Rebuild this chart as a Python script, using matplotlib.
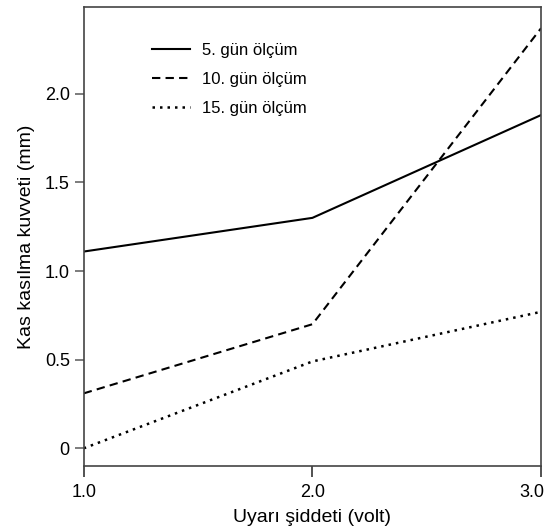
import matplotlib
matplotlib.use("Agg")
import matplotlib.pyplot as plt
from matplotlib.transforms import ScaledTranslation

plt.rcParams['font.family'] = ['Liberation Sans', 'DejaVu Sans']

# Data
voltage = [1.0, 2.0, 3.0]
day5 = [1.11, 1.30, 1.88]
day10 = [0.31, 0.70, 2.37]
day15 = [0.0, 0.49, 0.77]
labels = ["5. gün ölçüm", "10. gün ölçüm", "15. gün ölçüm"]
x_ticks = [1.0, 2.0, 3.0]
x_ticklabels = ["1.0", "2.0", "3.0"]
y_ticks = [0, 0.5, 1.0, 1.5, 2.0]
y_ticklabels = ["0", "0.5", "1.0", "1.5", "2.0"]

fig = plt.figure(figsize=(5.51, 5.32), dpi=100)
ax = fig.add_axes([0.152, 0.124, 0.830, 0.863])

ax.plot(voltage, day5, color="black", lw=1.5, linestyle="-", label=labels[0])
ax.plot(voltage, day10, color="black", lw=1.5, linestyle=(0, (4, 2.5)), label=labels[1])
ax.plot(voltage, day15, color="black", lw=1.8, linestyle=(0, (1, 2)), label=labels[2])

ax.set_xlim(1.0, 3.0)
ax.set_ylim(-0.1, 2.49)

ax.set_xticks(x_ticks)
ax.set_xticklabels(x_ticklabels, fontsize=13)
ax.set_yticks(y_ticks)
ax.set_yticklabels(y_ticklabels, fontsize=13)
ax.tick_params(axis="x", direction="out", length=8, width=1.2, color="#333333", pad=5)
ax.tick_params(axis="y", direction="out", length=6.5, width=1.2, color="#666666", pad=3.5)

# last x label sits flush with the right edge, as in the original
last = ax.get_xticklabels()[-1]
last.set_horizontalalignment("right")
last.set_transform(last.get_transform() + ScaledTranslation(3 / 100, 0, fig.dpi_scale_trans))

for s in ax.spines.values():
    s.set_color("#444444")
    s.set_linewidth(1.2)

ax.set_xlabel("Uyarı şiddeti (volt)", fontsize=14, labelpad=6)
ax.set_ylabel("Kas kasılma kuvveti (mm)", fontsize=14, labelpad=7)

ax.legend(loc="upper left", bbox_to_anchor=(0.134, 0.937), borderaxespad=0,
          frameon=False, fontsize=12, handlelength=2.3, handletextpad=0.7,
          labelspacing=0.85)

fig.savefig("out.png", dpi=100)
